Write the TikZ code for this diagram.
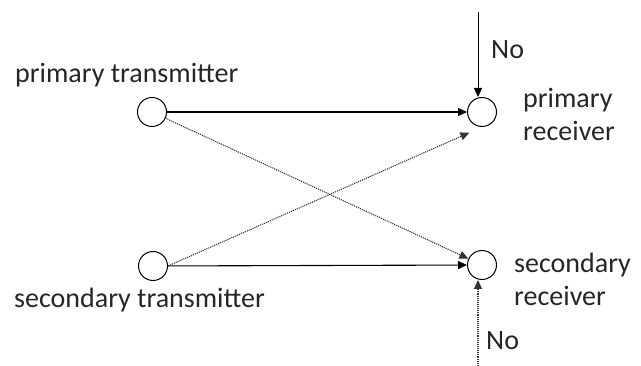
\documentclass[tikz,border=0pt]{standalone}
\usepackage{fontspec}
\setmainfont{Carlito}
\usetikzlibrary{arrows.meta}
\begin{document}
\begin{tikzpicture}[x=1pt,y=-1pt,
  nd/.style={circle,draw,line width=1pt,minimum size=29pt,inner sep=0pt},
  lbl/.style={font=\fontsize{28}{33}\selectfont,text=black!85,inner sep=0pt},
  sig/.style={line width=1.1pt,-{Triangle[length=9pt,width=8pt]}},
  itf/.style={densely dotted,line width=1.1pt,draw=black!80,-{Triangle[length=9pt,width=8pt]}}]
\useasboundingbox (0,0) rectangle (641,366);
\node[nd] (pt) at (152,112) {};
\node[nd] (st) at (153,266) {};
\node[nd] (pr) at (482,112) {};
\node[nd] (sr) at (482,265) {};
\node[lbl,anchor=west] (ptl) at (15,75) {primary transmitter};
\node[lbl,anchor=west] (stl) at (14,300) {secondary transmitter};
\node[lbl,align=left,anchor=west] (prl) at (523,114) {primary\\receiver};
\node[lbl,align=left,anchor=west] (srl) at (514,279) {secondary\\receiver};
\node[lbl,anchor=west] (n1) at (491,50) {No};
\node[lbl,anchor=west] (n2) at (486,341) {No};
\coordinate (t1) at (478,12);
\coordinate (t2) at (478,366);
\draw[sig] (pt) -- (pr);
\draw[sig] (st) -- (sr);
\draw[itf] (pt) -- (sr);
\draw[itf] (st.east) -- ([shift={(-2,10)}]pr.south west);
\draw[line width=1pt,-{Triangle[length=9pt,width=8pt]}] (t1) -- (t1 |- pr.north);
\draw[itf] (t2) -- (t2 |- sr.south);
\end{tikzpicture}
\end{document}
